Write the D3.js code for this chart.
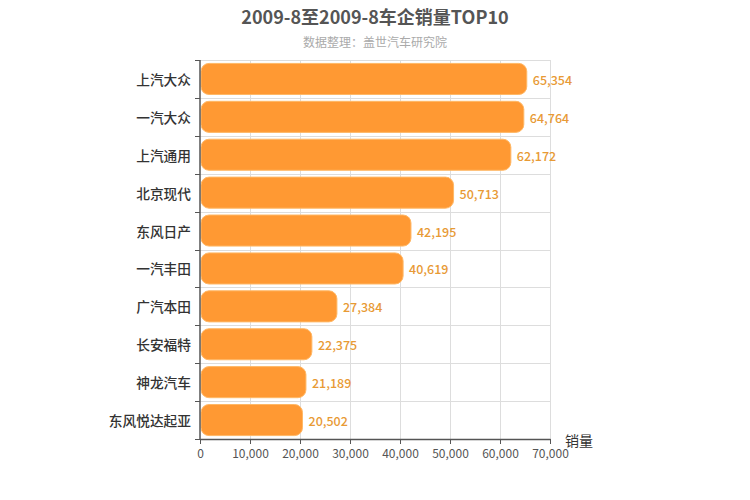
<!DOCTYPE html>
<html><head><meta charset="utf-8">
<script src="https://cdn.jsdelivr.net/npm/d3@7"></script>
<style>body{margin:0;background:#fff;} text{font-family:"Noto Sans CJK SC","Microsoft YaHei",sans-serif;}</style>
</head><body>
<svg id="c" width="750" height="500"></svg>
<script>
const categories = ["上汽大众","一汽大众","上汽通用","北京现代","东风日产","一汽丰田","广汽本田","长安福特","神龙汽车","东风悦达起亚"];
const sales = [65354,64764,62172,50713,42195,40619,27384,22375,21189,20502];
const xTicks = [0,10000,20000,30000,40000,50000,60000,70000];
const title = "2009-8至2009-8车企销量TOP10";
const subtitle = "数据整理：盖世汽车研究院";
const axisName = "销量";

const svg = d3.select("#c");
const m = {left:200, right:550, top:60, bottom:439};
const x = d3.scaleLinear().domain([0,70000]).range([m.left, m.right]);
const y = d3.scaleBand().domain(categories).range([m.top, m.bottom]).paddingInner(0.18).paddingOuter(0.09);
const band = d3.scaleBand().domain(categories).range([m.top, m.bottom]);

svg.append("text").attr("x",375).attr("y",24).attr("text-anchor","middle")
  .attr("font-size",18).attr("font-weight","bold").attr("fill","#555").text(title);
svg.append("text").attr("x",375).attr("y",47).attr("text-anchor","middle")
  .attr("font-size",12).attr("fill","#aaa").text(subtitle);

// grid
const g = svg.append("g");
g.selectAll("line.v").data(xTicks.slice(1)).enter().append("line")
  .attr("x1",d=>x(d)).attr("x2",d=>x(d)).attr("y1",m.top).attr("y2",m.bottom)
  .attr("stroke","#ddd").attr("stroke-width",1).attr("shape-rendering","crispEdges");
const bounds = categories.map(c=>band(c)).concat([m.bottom]);
g.selectAll("line.h").data(bounds.slice(0,-1)).enter().append("line")
  .attr("x1",m.left).attr("x2",m.right).attr("y1",d=>Math.round(d)).attr("y2",d=>Math.round(d))
  .attr("stroke","#ddd").attr("stroke-width",1).attr("shape-rendering","crispEdges");

// bars
svg.selectAll("rect.bar").data(sales).enter().append("rect")
  .attr("x",x(0)+1).attr("y",(d,i)=>y(categories[i]))
  .attr("width",d=>x(d)-x(0)-1).attr("height",y.bandwidth())
  .attr("rx",8).attr("ry",8)
  .attr("fill","#ff9933").attr("stroke","#ffb866").attr("stroke-width",1);

// value labels
svg.selectAll("text.val").data(sales).enter().append("text")
  .attr("x",d=>x(d)+6).attr("y",(d,i)=>y(categories[i])+y.bandwidth()/2+6)
  .attr("font-size",12.5).attr("font-weight",500).attr("fill","#e89a35").text(d=>d3.format(",")(d));

// y axis
const ya = svg.append("g");
ya.append("line").attr("x1",m.left).attr("x2",m.left).attr("y1",m.top).attr("y2",m.bottom)
  .attr("stroke","#555").attr("stroke-width",1.5);
ya.selectAll("line.t").data(bounds).enter().append("line")
  .attr("x1",m.left-5).attr("x2",m.left).attr("y1",d=>Math.round(d)).attr("y2",d=>Math.round(d))
  .attr("stroke","#555").attr("shape-rendering","crispEdges");
ya.selectAll("text").data(categories).enter().append("text")
  .attr("x",m.left-9).attr("y",d=>band(d)+band.bandwidth()/2+6)
  .attr("text-anchor","end").attr("font-size",13.7).attr("font-weight",500).attr("fill","#333").text(d=>d);

// x axis
const xa = svg.append("g").attr("transform",`translate(0,${m.bottom})`)
  .call(d3.axisBottom(x).tickValues(xTicks).tickFormat(d3.format(",")).tickSize(5).tickSizeOuter(0));
xa.select(".domain").attr("stroke","#555").attr("stroke-width",1.5);
xa.selectAll(".tick line").attr("stroke","#555");
xa.selectAll(".tick text").attr("font-size",12).attr("fill","#555").attr("dy","0.9em")
  .style("font-family",'"Noto Sans CJK SC",sans-serif');
svg.append("text").attr("x",565).attr("y",446).attr("font-size",14).attr("fill","#333").text(axisName);
</script>
</body></html>
